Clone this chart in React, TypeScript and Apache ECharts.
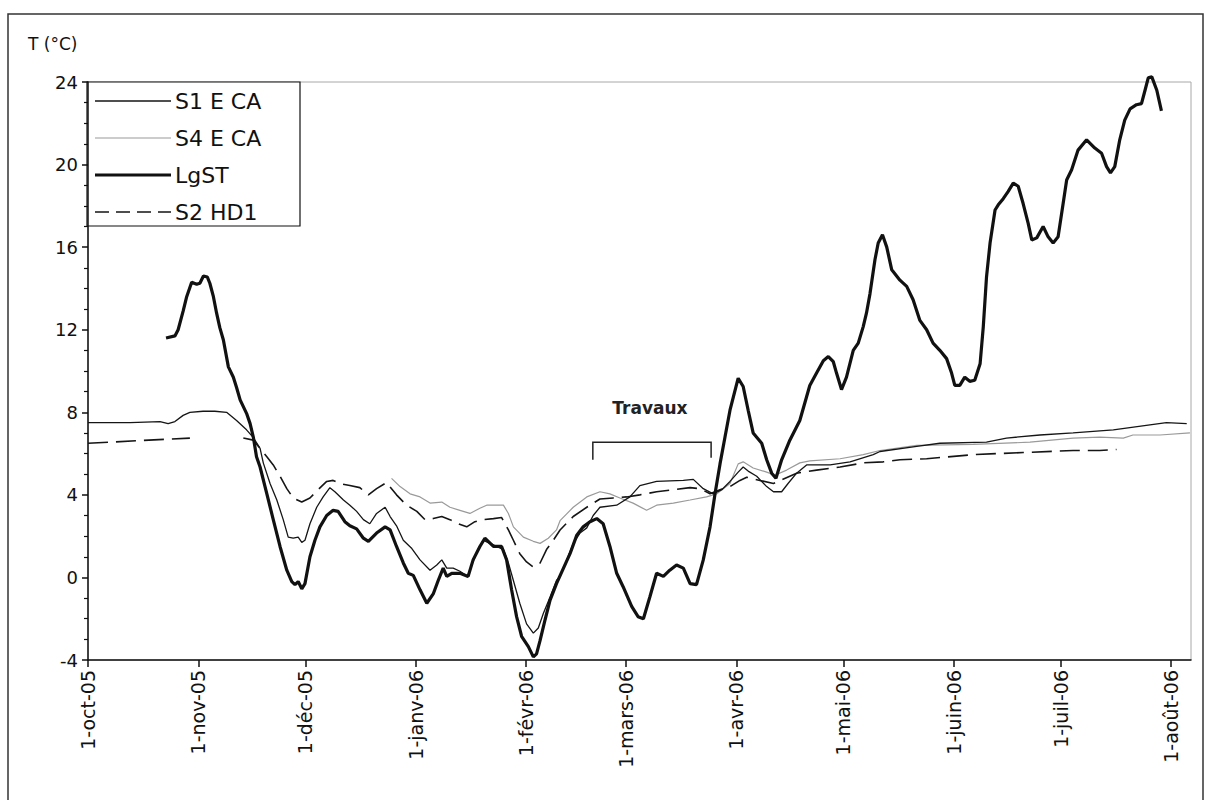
import React, { useEffect, useRef } from "react";
import * as echarts from "echarts";

// x values are days counted from 1 Oct 2005
const monthTicks = [0, 31, 61, 92, 123, 151, 182, 212, 243, 273, 304];
const monthLabels = [
  "1-oct-05", "1-nov-05", "1-déc-05", "1-janv-06", "1-févr-06", "1-mars-06",
  "1-avr-06", "1-mai-06", "1-juin-06", "1-juil-06", "1-août-06",
];
const yTicks = [-4, 0, 4, 8, 12, 16, 20, 24];
const seriesNames = ["S1 E CA", "S4 E CA", "LgST", "S2 HD1"];

const s1: [number, number][] = [
  [0, 7.5], [11.8, 7.5], [20.2, 7.55], [22.5, 7.45], [24.4, 7.55], [26.7, 7.85], [28.6, 8.0],
  [32.3, 8.05], [35.6, 8.05], [38.9, 8.0], [41.7, 7.6], [44.5, 7.15], [46.3, 6.8], [48.3, 6.25],
  [49.2, 5.55], [51.1, 4.55], [53.0, 3.75], [54.8, 2.8], [56.2, 1.95], [57.6, 1.9], [59.0, 1.95],
  [60.0, 1.7], [60.9, 1.8], [62.3, 2.6], [64.2, 3.4], [66.0, 3.9], [67.9, 4.35], [69.3, 4.15],
  [71.7, 3.75], [73.5, 3.5], [75.4, 3.2], [77.3, 2.8], [79.1, 2.6], [81.0, 3.1], [83.4, 3.4],
  [84.8, 2.95], [86.6, 2.5], [88.5, 1.8], [90.9, 1.4], [93.2, 0.85], [96.0, 0.35], [97.9, 0.6],
  [99.3, 0.85], [100.7, 0.45], [102.5, 0.45], [104.4, 0.3], [106.5, 0.05], [107.7, 0.6],
  [109.5, 1.35], [110.9, 1.8], [112.8, 1.65], [114.7, 1.5], [116.6, 1.35], [118.0, 0.7],
  [119.4, -0.15], [121.2, -1.25], [123.1, -2.25], [125.0, -2.7], [126.4, -2.45], [127.8, -1.75],
  [129.7, -0.95], [131.5, -0.15], [132.5, 0.05], [134.4, 0.85], [136.2, 1.65], [138.1, 2.15],
  [140.0, 2.4], [141.8, 3.0], [143.7, 3.4], [148.4, 3.5], [152.1, 3.9], [154.9, 4.45],
  [159.6, 4.65], [167.1, 4.7], [169.9, 4.75], [172.7, 4.3], [175.5, 4.05], [177.9, 4.25],
  [180.2, 4.65], [182.5, 5.1], [183.9, 5.35], [185.3, 5.15], [187.7, 4.9], [190.5, 4.4],
  [192.4, 4.15], [194.7, 4.15], [196.5, 4.55], [198.9, 5.05], [201.7, 5.45], [208.3, 5.45],
  [213.9, 5.6], [220.4, 5.95], [222.3, 6.1], [232.6, 6.35], [239.1, 6.5], [252.2, 6.55],
  [257.8, 6.75], [267.2, 6.9], [276.5, 7.0], [287.8, 7.15], [302.7, 7.5], [308.4, 7.45],
];

const s4: [number, number][] = [
  [85.2, 4.8], [87.6, 4.4], [90.4, 4.05], [93.2, 3.9], [96.0, 3.6], [99.3, 3.65], [101.6, 3.4],
  [104.4, 3.25], [107.2, 3.1], [110.0, 3.35], [111.9, 3.5], [116.6, 3.5], [118.0, 3.1],
  [119.4, 2.45], [122.2, 1.95], [125.0, 1.75], [126.9, 1.65], [129.2, 1.9], [131.5, 2.3],
  [132.5, 2.75], [136.2, 3.4], [140.0, 3.9], [143.7, 4.15], [146.5, 4.05], [149.3, 3.85],
  [153.0, 3.6], [156.8, 3.25], [159.6, 3.5], [164.3, 3.6], [169.0, 3.75], [173.6, 3.9],
  [176.5, 4.05], [180.2, 4.55], [182.5, 5.5], [183.9, 5.6], [186.7, 5.3], [190.5, 5.1],
  [192.8, 4.95], [196.1, 5.2], [199.8, 5.55], [202.6, 5.65], [211.1, 5.75], [217.6, 5.95],
  [222.3, 6.15], [232.6, 6.4], [248.5, 6.45], [264.4, 6.55], [276.5, 6.75], [284.0, 6.8],
  [290.6, 6.75], [293.3, 6.9], [300.9, 6.9], [309.3, 7.0],
];

const lgST: [number, number][] = [
  [21.9, 11.6], [24.4, 11.7], [25.3, 12.0], [26.7, 12.9], [27.7, 13.6], [29.1, 14.3], [30.5, 14.2],
  [31.4, 14.25], [32.4, 14.6], [33.5, 14.55], [34.2, 14.25], [35.2, 13.6], [36.1, 12.8],
  [37.0, 12.1], [38.0, 11.5], [39.4, 10.2], [40.8, 9.7], [41.7, 9.2], [42.7, 8.6], [44.5, 7.95],
  [45.5, 7.45], [46.4, 6.8], [47.3, 5.85], [48.3, 5.35], [50.2, 4.05], [52.0, 2.8], [53.9, 1.5],
  [55.8, 0.35], [57.2, -0.2], [58.1, -0.35], [59.0, -0.2], [60.0, -0.55], [60.9, -0.3],
  [62.3, 1.0], [63.7, 1.8], [65.1, 2.45], [67.0, 3.0], [68.8, 3.25], [70.2, 3.2], [72.1, 2.7],
  [73.5, 2.5], [75.4, 2.35], [77.3, 1.9], [78.7, 1.75], [81.0, 2.15], [83.4, 2.45], [84.8, 2.3],
  [86.6, 1.5], [88.5, 0.7], [89.9, 0.2], [91.3, 0.1], [93.2, -0.6], [95.1, -1.25], [96.9, -0.8],
  [98.3, -0.15], [99.7, 0.45], [100.7, 0.05], [102.1, 0.2], [104.4, 0.2], [106.7, 0.05],
  [108.1, 0.85], [110.0, 1.5], [111.4, 1.9], [113.8, 1.5], [116.1, 1.5], [117.5, 0.85],
  [118.9, -0.6], [120.3, -1.9], [121.7, -2.85], [123.6, -3.35], [125.0, -3.85], [125.9, -3.7],
  [126.9, -3.05], [128.3, -2.05], [129.7, -1.1], [131.5, -0.3], [135.3, 1.15], [137.2, 2.05],
  [139.0, 2.45], [140.9, 2.7], [142.8, 2.85], [144.6, 2.6], [146.5, 1.5], [148.4, 0.2],
  [150.2, -0.45], [152.6, -1.4], [154.4, -1.9], [155.9, -2.0], [157.7, -0.95], [159.6, 0.2],
  [161.5, 0.05], [163.3, 0.35], [165.2, 0.6], [167.1, 0.45], [169.0, -0.3], [170.8, -0.35],
  [172.7, 0.85], [174.6, 2.45], [176.0, 4.05], [177.4, 5.5], [178.8, 6.8], [180.2, 8.1],
  [182.5, 9.65], [183.9, 9.25], [185.3, 8.1], [186.7, 7.0], [189.1, 6.5], [190.5, 5.7],
  [191.9, 5.05], [193.1, 4.8], [194.7, 5.7], [197.0, 6.65], [199.8, 7.6], [201.7, 8.75],
  [202.6, 9.3], [204.5, 9.9], [206.4, 10.5], [207.8, 10.7], [209.2, 10.45], [210.1, 9.9],
  [211.5, 9.1], [212.9, 9.7], [214.8, 11.0], [216.2, 11.35], [217.6, 12.15], [218.5, 12.8],
  [219.5, 13.75], [220.9, 15.4], [221.8, 16.2], [223.0, 16.6], [224.2, 16.0], [225.6, 14.9],
  [227.9, 14.4], [229.8, 14.1], [231.6, 13.45], [233.5, 12.45], [235.4, 12.0], [237.2, 11.35],
  [239.1, 11.0], [241.0, 10.6], [242.4, 9.9], [243.3, 9.3], [244.7, 9.3], [246.1, 9.7],
  [247.5, 9.5], [248.9, 9.55], [250.4, 10.35], [251.3, 12.15], [252.2, 14.55], [253.2, 16.2],
  [254.6, 17.8], [255.5, 18.05], [256.9, 18.35], [258.3, 18.7], [259.7, 19.1], [261.1, 18.95],
  [262.5, 18.1], [263.9, 17.15], [264.9, 16.35], [266.3, 16.45], [268.1, 17.0], [269.5, 16.5],
  [270.9, 16.2], [272.3, 16.5], [273.7, 18.1], [274.7, 19.25], [276.1, 19.75], [277.9, 20.7],
  [280.3, 21.2], [282.6, 20.8], [284.5, 20.55], [285.9, 19.9], [287.0, 19.6], [288.2, 19.9],
  [289.6, 21.2], [291.0, 22.15], [292.5, 22.7], [294.3, 22.9], [295.7, 22.95], [296.7, 23.6],
  [297.6, 24.2], [298.6, 24.25], [300.0, 23.6], [301.3, 22.6],
];

// recorder gap between the two null-separated stretches
const s2: [number, number | null][] = [
  [0, 6.5], [28.6, 6.75], [36, null], [43.6, 6.75], [46.4, 6.65], [48.3, 6.25], [50.2, 5.85],
  [52.0, 5.45], [53.9, 4.9], [55.8, 4.3], [57.6, 3.85], [60.0, 3.65], [62.3, 3.85], [64.6, 4.25],
  [67.0, 4.65], [68.8, 4.7], [70.7, 4.55], [73.5, 4.45], [76.3, 4.35], [78.7, 4.0], [81.0, 4.3],
  [83.8, 4.6], [86.6, 4.0], [89.4, 3.5], [92.3, 3.2], [94.6, 2.8], [96.9, 2.85], [99.3, 2.95],
  [101.6, 2.8], [103.9, 2.6], [106.3, 2.45], [108.6, 2.7], [110.9, 2.8], [113.8, 2.85],
  [116.1, 2.9], [118.0, 2.3], [119.4, 1.8], [121.2, 1.15], [123.1, 0.75], [125.0, 0.5],
  [126.9, 0.7], [128.7, 1.35], [130.6, 1.8], [132.5, 2.3], [136.2, 2.95], [140.0, 3.4],
  [143.7, 3.8], [147.4, 3.85], [151.2, 3.9], [154.9, 4.0], [159.6, 4.15], [164.3, 4.25],
  [169.0, 4.35], [171.8, 4.3], [174.6, 4.05], [177.4, 4.25], [180.2, 4.4], [183.0, 4.7],
  [184.9, 4.85], [188.6, 4.7], [192.4, 4.55], [198.9, 5.05], [204.5, 5.2], [211.1, 5.35],
  [217.6, 5.55], [223.2, 5.6], [227.9, 5.7], [235.4, 5.75], [248.5, 5.95], [262.5, 6.05],
  [276.5, 6.15], [284.0, 6.15], [288.7, 6.2],
];

// "Travaux" bracket: start / end day, bracket level and leg ends (°C)
const travauxDays = [141.7, 174.9];
const travauxLevels = [6.55, 5.7];

const FONT = "DejaVu Sans";

// stroke style of each series, shared by the plot lines and the key
const styles = [
  { color: "#151515", width: 1.3, type: "solid" as any },
  { color: "#9a9a9a", width: 1.2, type: "solid" as any },
  { color: "#111111", width: 3.2, type: "solid" as any },
  { color: "#151515", width: 1.6, type: [20, 8] as any },
];

export default function App() {
  const ref = useRef<HTMLDivElement>(null);

  useEffect(() => {
    if (!ref.current) return;
    const chart = echarts.init(ref.current, null, { renderer: "svg" });

    const lineBase = { type: "line" as const, showSymbol: false, symbol: "none", smooth: false };

    chart.setOption({
      animation: false,
      backgroundColor: "#fff",
      grid: {
        left: 88, right: 14, top: 82, bottom: 140,
        show: true, borderColor: "#a8a8a8", borderWidth: 1,
      },
      xAxis: {
        type: "value", min: 0, max: 309.6,
        splitLine: { show: false },
        axisLine: { onZero: false, lineStyle: { color: "#111", width: 1.5 } },
        axisTick: { customValues: monthTicks, length: 7, lineStyle: { color: "#111", width: 1.5 } },
        axisLabel: {
          customValues: monthTicks,
          rotate: 90, margin: 10,
          fontFamily: FONT, fontSize: 19, color: "#111",
          formatter: (v: number) => {
            const i = monthTicks.indexOf(Math.round(v));
            return i >= 0 ? monthLabels[i] : "";
          },
        },
      },
      yAxis: {
        type: "value", min: -4, max: 24, interval: 4,
        splitLine: { show: false },
        axisLine: { show: true, lineStyle: { color: "#111", width: 1.5 } },
        axisTick: { show: true, length: 6, lineStyle: { color: "#111", width: 1.5 } },
        minorTick: { show: true, splitNumber: 4, length: 4, lineStyle: { color: "#111", width: 1.2 } },
        axisLabel: {
          margin: 10, fontFamily: FONT, fontSize: 18, color: "#111",
          formatter: (v: number) => (yTicks.includes(v) ? String(v) : ""),
        },
      },
      series: [
        { ...lineBase, name: seriesNames[0], data: s1, z: 3, lineStyle: styles[0] },
        { ...lineBase, name: seriesNames[1], data: s4, z: 2, lineStyle: styles[1] },
        { ...lineBase, name: seriesNames[2], data: lgST, z: 4, clip: false, lineStyle: styles[2] },
        { ...lineBase, name: seriesNames[3], data: s2, z: 3, connectNulls: false, lineStyle: styles[3] },
      ],
    });

    const [xa, ya] = chart.convertToPixel({ gridIndex: 0 }, [travauxDays[0], travauxLevels[0]]) as number[];
    const [xb, yb] = chart.convertToPixel({ gridIndex: 0 }, [travauxDays[1], travauxLevels[1]]) as number[];

    // key box in the upper-left corner of the plot
    const keyLeft = 87, keyTop = 82, keyW = 213, keyH = 144, rowPitch = 37, firstRow = 101;
    const keyItems: any[] = [];
    seriesNames.forEach((name, i) => {
      const y = keyTop + (firstRow - 82) + i * rowPitch;
      const st = styles[i];
      keyItems.push({
        type: "line", silent: true,
        shape: { x1: keyLeft + 8, y1: y, x2: keyLeft + 84, y2: y },
        style: {
          stroke: st.color, lineWidth: st.width,
          lineDash: Array.isArray(st.type) ? [14, 7] : null,
        },
      });
      keyItems.push({
        type: "text", x: keyLeft + 88, y,
        style: {
          text: name, fontFamily: FONT, fontSize: 22, fill: "#111",
          verticalAlign: "middle", align: "left",
        },
      });
    });

    chart.setOption({
      graphic: [
        {
          type: "rect", silent: true, z: 0,
          shape: { x: 8, y: 14, width: 1195, height: 800 },
          style: { fill: "none", stroke: "#333", lineWidth: 1.5 },
        },
        {
          type: "text", left: 28, top: 35,
          style: { text: "T (°C)", fontFamily: FONT, fontSize: 17, fill: "#111" },
        },
        {
          type: "group", z: 10,
          children: [
            {
              type: "rect", silent: true,
              shape: { x: keyLeft, y: keyTop, width: keyW, height: keyH },
              style: { fill: "#fff", stroke: "#111", lineWidth: 1.2 },
            },
            ...keyItems,
          ],
        },
        {
          type: "polyline", silent: true,
          shape: { points: [[xa, yb], [xa, ya], [xb, ya], [xb, yb - 2]] },
          style: { stroke: "#222", lineWidth: 1.5, fill: "none" },
        },
        {
          type: "text", x: (xa + xb) / 2 - 2, y: ya - 34,
          style: {
            text: "Travaux", fontFamily: FONT, fontWeight: "bold", fontSize: 17,
            fill: "#222", align: "center", verticalAlign: "middle",
          },
        },
      ],
    });

    return () => chart.dispose();
  }, []);

  return (
    <div
      ref={ref}
      style={{ position: "absolute", left: 0, top: 0, width: 1205, height: 800, background: "#fff" }}
    />
  );
}
